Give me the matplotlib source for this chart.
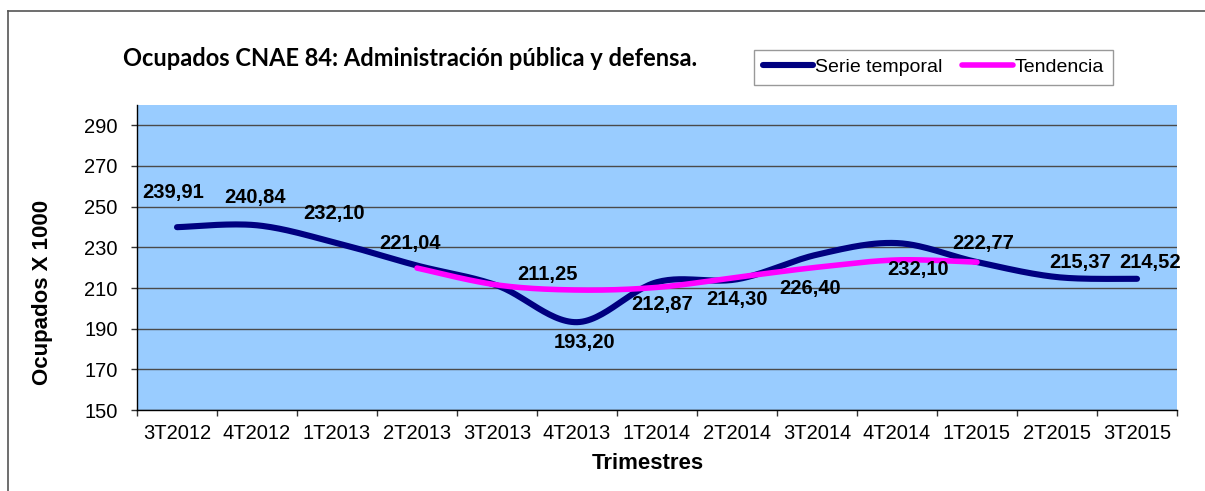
import numpy as np
import matplotlib.pyplot as plt
from matplotlib.lines import Line2D

# datos
trimestres = ['3T2012', '4T2012', '1T2013', '2T2013', '3T2013', '4T2013', '1T2014',
              '2T2014', '3T2014', '4T2014', '1T2015', '2T2015', '3T2015']
serie = [239.91, 240.84, 232.10, 221.04, 211.25, 193.20, 212.87,
         214.30, 226.40, 232.10, 222.77, 215.37, 214.52]
# tendencia: de 2T2013 a 1T2015
tend_inicio = 3
tendencia = [219.8, 211.5, 209.0, 210.3, 215.3, 220.2, 223.8, 222.7]
etiquetas = ['239,91', '240,84', '232,10', '221,04', '211,25', '193,20', '212,87',
             '214,30', '226,40', '232,10', '222,77', '215,37', '214,52']
# desplazamiento de etiquetas (pixeles)
lab_off = [(-4, 35), (-2, 28), (-3, 30), (-7, 22), (50, 11), (8, -20), (5, -22),
           (0, -20), (-7, -34), (21, -26), (6, 19), (23, 15), (13, 16)]


def suavizar(x, y, n=30):
    # curva tipo Excel (Bezier con tangentes Catmull-Rom)
    x = np.asarray(x, float)
    y = np.asarray(y, float)
    xs, ys = [], []
    t = np.linspace(0, 1, n)
    for i in range(len(x) - 1):
        i0 = max(i - 1, 0)
        i3 = min(i + 2, len(x) - 1)
        c1x = x[i] + (x[i + 1] - x[i0]) / 6
        c1y = y[i] + (y[i + 1] - y[i0]) / 6
        c2x = x[i + 1] - (x[i3] - x[i]) / 6
        c2y = y[i + 1] - (y[i3] - y[i]) / 6
        b0 = (1 - t) ** 3
        b1 = 3 * (1 - t) ** 2 * t
        b2 = 3 * (1 - t) * t ** 2
        b3 = t ** 3
        xs.append(b0 * x[i] + b1 * c1x + b2 * c2x + b3 * x[i + 1])
        ys.append(b0 * y[i] + b1 * c1y + b2 * c2y + b3 * y[i + 1])
    return np.concatenate(xs), np.concatenate(ys)


plt.rcParams['font.family'] = ['Liberation Sans', 'DejaVu Sans']

fig = plt.figure(figsize=(12.05, 4.91), dpi=100)
ax = fig.add_axes([137 / 1205, 1 - 410 / 491, 1040 / 1205, 305 / 491])
ax.set_facecolor('#99CCFF')

xi = np.arange(len(serie))
sx, sy = suavizar(xi, serie)
ax.plot(sx, sy, color='#000080', lw=4.4, solid_capstyle='round', label='Serie temporal', zorder=3)
tx, ty = suavizar(xi[tend_inicio:tend_inicio + len(tendencia)], tendencia)
ax.plot(tx, ty, color='#FF00FF', lw=4.0, solid_capstyle='round', label='Tendencia', zorder=4)

for i, txt in enumerate(etiquetas):
    ax.annotate(txt, (xi[i], serie[i]), xytext=lab_off[i], textcoords='offset pixels',
                ha='center', va='center', fontsize=14.5, fontweight='bold', zorder=5)

ax.set_xlim(-0.5, len(serie) - 0.5)
ax.set_ylim(150, 300)
ax.set_yticks(np.arange(150, 291, 20))
ax.yaxis.grid(True, color='#4a4a4a', lw=1.0)
ax.set_axisbelow(True)

ax.set_xticks(np.arange(-0.5, len(serie), 1))
ax.set_xticklabels([])
ax.set_xticks(xi, minor=True)
ax.set_xticklabels(trimestres, minor=True)
ax.tick_params(axis='x', which='major', length=4, width=1, color='#333333', direction='out')
ax.tick_params(axis='x', which='minor', length=0, pad=10, labelsize=14.5)
ax.tick_params(axis='y', length=4, width=1, color='#333333', pad=10, labelsize=14.5)

for s in ['top', 'right']:
    ax.spines[s].set_visible(False)
ax.spines['left'].set_linewidth(1.0)
ax.spines['bottom'].set_linewidth(1.0)

ax.set_ylabel('Ocupados X 1000', fontsize=16, fontweight='bold', va='center')
ax.yaxis.set_label_coords(-0.0913, 0.387)
ax.set_xlabel('Trimestres', fontsize=16, fontweight='bold', va='center')
ax.xaxis.set_label_coords(0.491, -0.174)

fig.text(410 / 1205, 1 - 58 / 491, 'Ocupados CNAE 84: Administración pública y defensa.',
         ha='center', va='center', fontsize=17, fontweight='bold', family=['Lato', 'DejaVu Sans'])

leg = ax.legend(loc='center', bbox_to_anchor=(933.5 / 1205, 1 - 67.5 / 491),
                bbox_transform=fig.transFigure, ncol=2, fontsize=14, frameon=True,
                fancybox=False, handlelength=2.6, handletextpad=0.1, columnspacing=1.0,
                borderpad=0.45, borderaxespad=0)
leg.get_frame().set_edgecolor('#808080')
leg.get_frame().set_linewidth(1.0)

# marco exterior
fig.add_artist(Line2D([8 / 1205, 8 / 1205], [0, 1 - 11 / 491], color='#555555', lw=1.2,
                      transform=fig.transFigure))
fig.add_artist(Line2D([8 / 1205, 1], [1 - 11 / 491, 1 - 11 / 491], color='#555555', lw=1.2,
                      transform=fig.transFigure))

plt.savefig('out.png', dpi=100)
